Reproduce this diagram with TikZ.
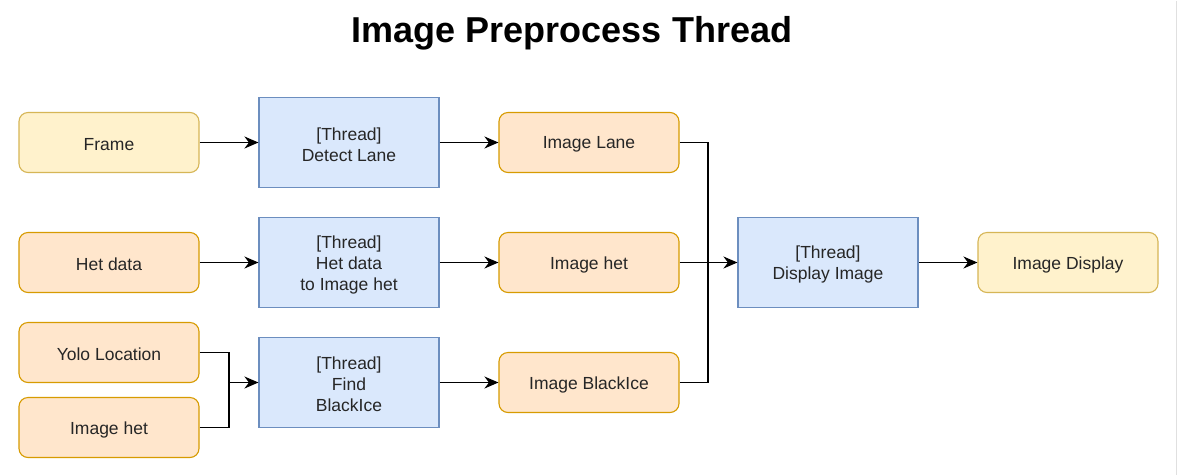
\documentclass[tikz,border=0pt]{standalone}
\usepackage{fontspec}
\setmainfont{Liberation Sans}
\usetikzlibrary{arrows.meta}
\definecolor{yfill}{HTML}{FFF2CC}\definecolor{ydraw}{HTML}{D6B656}
\definecolor{ofill}{HTML}{FFE6CC}\definecolor{odraw}{HTML}{D79B00}
\definecolor{bfill}{HTML}{DAE8FC}\definecolor{bdraw}{HTML}{6C8EBF}
\tikzset{
  base/.style={minimum width=180pt, minimum height=60pt, inner sep=0pt, line width=1.1pt},
  every label/.style={align=center, font=\fontsize{17.5}{21}\selectfont, text=black!85, inner sep=0pt, yshift=-2pt},
  ybox/.style={base, rounded corners=9pt, fill=yfill, draw=ydraw},
  obox/.style={base, rounded corners=9pt, fill=ofill, draw=odraw},
  tbox/.style={base, minimum height=90pt, fill=bfill, draw=bdraw},
  wire/.style={line width=1.4pt, draw=black},
  conn/.style={wire, -{Stealth[length=14pt,width=12pt,inset=4.5pt]}}
}
\begin{document}
\begin{tikzpicture}[x=1pt,y=-1pt]
\fill[white] (0,0) rectangle (1178,474);
\draw[black!12, line width=1pt] (1176.5,0) -- (1176.5,474);
\node[font=\fontsize{36}{40}\selectfont\bfseries] (title) at (572,33) {Image Preprocess Thread};

\node[ybox, label={center:Frame}] (frame) at (109,142) {};
\node[tbox, label={center:[Thread]\\Detect Lane}] (detect) at (349,142) {};
\node[obox, label={center:Image Lane}] (lane) at (589,142) {};

\node[obox, label={center:Het data}] (hetdata) at (109,262) {};
\node[tbox, label={center:[Thread]\\Het data\\to Image het}] (hetthread) at (349,262) {};
\node[obox, label={center:Image het}] (imghet) at (589,262) {};

\node[obox, label={center:Yolo Location}] (yolo) at (109,352) {};
\node[obox, label={center:Image het}] (imghetl) at (109,427) {};
\node[tbox, label={center:[Thread]\\Find\\BlackIce}] (find) at (349,382) {};
\node[obox, label={center:Image BlackIce}] (blackice) at (589,382) {};

\node[tbox, label={center:[Thread]\\Display Image}] (display) at (828,262) {};
\node[ybox, label={center:Image Display}] (imgdisp) at (1068,262) {};

\coordinate (j1) at (229,382);
\coordinate (j2) at (708,262);

\draw[conn] (frame) -- (detect.west |- frame);
\draw[conn] (detect.east |- lane) -- (lane);
\draw[conn] (hetdata) -- (hetthread);
\draw[conn] (hetthread) -- (imghet);
\draw[wire] (yolo.east) -| (j1);
\draw[wire] (imghetl.east) -| (j1);
\draw[conn] (j1) -- (find.west);
\draw[conn] (find) -- (blackice);
\draw[wire] (lane.east) -| (j2);
\draw[wire] (blackice.east) -| (j2);
\draw[conn] (imghet.east) -- (display.west);
\draw[conn] (display) -- (imgdisp);
\end{tikzpicture}
\end{document}
